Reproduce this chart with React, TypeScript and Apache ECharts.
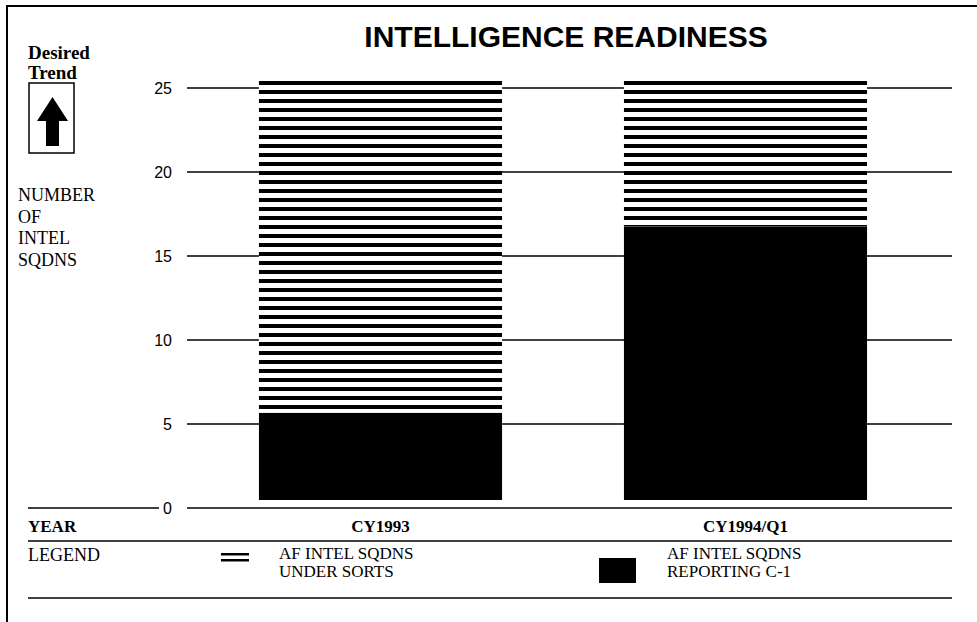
import React, { useEffect, useRef } from "react";
import * as echarts from "echarts";

const categories = ["CY1993", "CY1994/Q1"];
const reportingC1 = [5.2, 16.3];
const underSorts = [19.8, 8.7];
const yMax = 25;
const yStep = 5;
const titleText = "INTELLIGENCE READINESS";
const legendUnder = ["AF INTEL SQDNS", "UNDER SORTS"];
const legendC1 = ["AF INTEL SQDNS", "REPORTING C-1"];
const yAxisName = ["NUMBER", "OF", "INTEL", "SQDNS"];

export default function App() {
  const ref = useRef<HTMLDivElement>(null);
  useEffect(() => {
    const chart = echarts.init(ref.current!, null, { renderer: "svg" });
    const serif = "Liberation Serif";
    const sans = "Liberation Sans";
    const txt = (text: string, x: number, y: number, extra: any = {}) => ({
      type: "text",
      x,
      y,
      silent: true,
      style: {
        text,
        fill: "#000",
        fontFamily: serif,
        fontSize: 18,
        align: "left",
        verticalAlign: "middle",
        ...extra,
      },
    });
    const hline = (x1: number, x2: number, y: number, w = 1.5) => ({
      type: "line",
      silent: true,
      shape: { x1, y1: y, x2, y2: y },
      style: { stroke: "#000", lineWidth: w },
    });
    const option: any = {
      animation: false,
      backgroundColor: "#fff",
      grid: [
        { left: 187, top: 88, width: 765, height: 420 },
        { left: 198, top: 80, width: 730, height: 420 },
      ],
      xAxis: [
        { gridIndex: 0, type: "category", data: categories, show: false },
        {
          gridIndex: 1,
          type: "category",
          data: categories,
          axisLine: { show: false },
          axisTick: { show: false },
          axisLabel: {
            margin: 18,
            fontFamily: serif,
            fontWeight: "bold",
            fontSize: 17,
            color: "#000",
          },
        },
      ],
      yAxis: [
        {
          gridIndex: 0,
          type: "value",
          min: 0,
          max: yMax,
          interval: yStep,
          axisLine: { show: false },
          axisTick: { show: false },
          axisLabel: { margin: 15, fontFamily: sans, fontSize: 16, color: "#000" },
          splitLine: { lineStyle: { color: "#000", width: 1.5 } },
        },
        { gridIndex: 1, type: "value", min: 0, max: yMax, show: false },
      ],
      series: [
        {
          name: "AF INTEL SQDNS REPORTING C-1",
          type: "bar",
          xAxisIndex: 1,
          yAxisIndex: 1,
          stack: "total",
          data: reportingC1,
          barWidth: "66.6%",
          itemStyle: { color: "#000" },
        },
        {
          name: "AF INTEL SQDNS UNDER SORTS",
          type: "bar",
          xAxisIndex: 1,
          yAxisIndex: 1,
          stack: "total",
          data: underSorts,
          barWidth: "66.6%",
          itemStyle: {
            color: "#fff",
            decal: {
              symbol: "rect",
              symbolSize: 1,
              symbolKeepAspect: false,
              color: "#000",
              backgroundColor: "#fff",
              dashArrayX: [[8, 0]],
              dashArrayY: [4, 4.4],
              rotation: 0,
            },
          },
        },
      ],
      graphic: [
        {
          type: "polyline",
          silent: true,
          shape: { points: [[7, 622], [7, 6], [977, 6]] },
          style: { stroke: "#000", lineWidth: 2, fill: null },
        },
        txt(titleText, 566, 36, {
          fontFamily: sans,
          fontWeight: "bold",
          fontSize: 30,
          align: "center",
        }),
        txt("Desired", 28, 52, { fontWeight: "bold", fontSize: 19 }),
        txt("Trend", 28, 72, { fontWeight: "bold", fontSize: 19 }),
        {
          type: "rect",
          silent: true,
          shape: { x: 29, y: 83, width: 45, height: 70 },
          style: { stroke: "#000", lineWidth: 1.5, fill: "#fff" },
        },
        {
          type: "polygon",
          silent: true,
          shape: {
            points: [
              [52.5, 97],
              [68, 121],
              [59, 121],
              [59, 146],
              [46, 146],
              [46, 121],
              [37, 121],
            ],
          },
          style: { fill: "#000" },
        },
        ...yAxisName.map((t, i) => txt(t, 18, 195 + i * 21.7)),
        hline(28, 159, 508),
        txt("YEAR", 28, 526, { fontWeight: "bold", fontSize: 17 }),
        hline(28, 952, 541),
        txt("LEGEND", 28, 555),
        {
          type: "rect",
          silent: true,
          shape: { x: 221, y: 553, width: 28, height: 2.5 },
          style: { fill: "#000" },
        },
        {
          type: "rect",
          silent: true,
          shape: { x: 221, y: 559, width: 28, height: 2.5 },
          style: { fill: "#000" },
        },
        ...legendUnder.map((t, i) => txt(t, 279, 553 + i * 18, { fontSize: 17 })),
        {
          type: "rect",
          silent: true,
          shape: { x: 599, y: 558, width: 37, height: 25 },
          style: { fill: "#000" },
        },
        ...legendC1.map((t, i) => txt(t, 667, 553 + i * 18, { fontSize: 17 })),
        hline(28, 952, 598),
      ],
    };
    chart.setOption(option);
    return () => chart.dispose();
  }, []);
  return (
    <div
      ref={ref}
      style={{ position: "absolute", left: 0, top: 0, width: 977, height: 622 }}
    />
  );
}
